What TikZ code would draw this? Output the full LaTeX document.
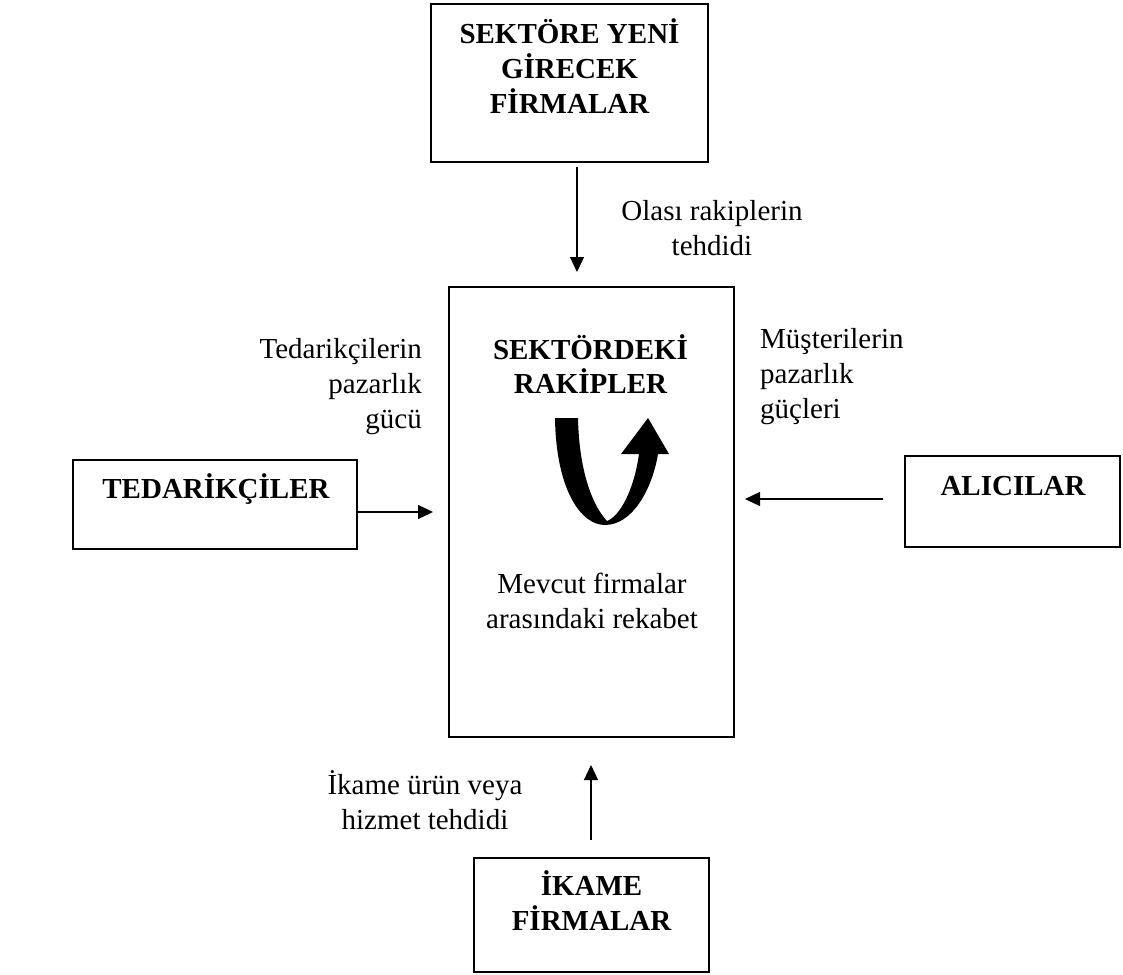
\documentclass[tikz,border=0pt]{standalone}
\usepackage{fontspec}
\setmainfont{Liberation Serif}
\usetikzlibrary{arrows.meta}
\begin{document}
\lineskiplimit=-\maxdimen
\begin{tikzpicture}[x=1pt,y=-1pt,
  box/.style={draw, line width=1.6pt, inner sep=0pt},
  lab/.style={inner sep=0pt, font=\fontsize{29}{35}\selectfont},
  head/.style={inner sep=0pt, font=\fontsize{29}{35}\selectfont\bfseries},
  arr/.style={line width=1.3pt, -{Triangle[length=15pt,width=14pt]}}]
\useasboundingbox (0,0) rectangle (1123,974);

% five forces boxes
\node[box, minimum width=277pt, minimum height=158pt] (new)   at (569.5,83)  {};
\node[box, minimum width=285pt, minimum height=450pt] (rival) at (591.5,512) {};
\node[box, minimum width=284pt, minimum height=89pt]  (sup)   at (215,504.5) {};
\node[box, minimum width=215pt, minimum height=91pt]  (buy)   at (1012.5,501.5) {};
\node[box, minimum width=235pt, minimum height=114pt] (subst) at (591.5,915) {};

% box titles
\node[head, align=center] (newT)   at (569.5,71.75) {\strut SEKTÖRE YENİ\\\strut GİRECEK\\\strut FİRMALAR};
\node[head, align=center, font=\fontsize{29}{34}\selectfont\bfseries] (rivalT) at (590.5,369.6) {\strut SEKTÖRDEKİ\\\strut RAKİPLER};
\node[head] (supT)   at (216,491.75) {\strut TEDARİKÇİLER};
\node[head] (buyT)   at (1013,488) {\strut ALICILAR};
\node[head, align=center] (substT) at (591.5,906.25) {\strut İKAME\\\strut FİRMALAR};

% force labels
\node[lab, align=center] (newL) at (712,230.5) {\strut Olası rakiplerin\\\strut tehdidi};
\node[lab, align=right, anchor=east] (supL) at (422,386) {\strut Tedarikçilerin\\\strut pazarlık\\\strut gücü};
\node[lab, align=left, anchor=west] (buyL) at (760,376) {\strut Müşterilerin\\\strut pazarlık\\\strut güçleri};
\node[lab, align=center] (rivalL) at (592,604) {\strut Mevcut firmalar\\\strut arasındaki rekabet};
\node[lab, align=center] (substL) at (425,804.75) {\strut İkame ürün veya\\\strut hizmet tehdidi};

% connector end points
\coordinate (newTail)   at (577,167);
\coordinate (newHead)   at (577,272);
\coordinate (supHead)   at (433,512);
\coordinate (buyTail)   at (883,499);
\coordinate (buyHead)   at (745,499);
\coordinate (substTail) at (591,840);
\coordinate (substHead) at (591,765);

\draw[arr] (newTail) -- (newHead);
\draw[arr] (sup.east |- supHead) -- (supHead);
\draw[arr] (buyTail) -- (buyHead);
\draw[arr] (substTail) -- (substHead);

% rivalry loop arrow
\fill (555,418) .. controls (556,488) and (580,525) .. (605,525)
  .. controls (632,525) and (652,490) .. (658,454)
  -- (669,454) -- (648,418) -- (621,454) -- (639,454)
  .. controls (634,490) and (620,516) .. (607,521)
  .. controls (592,505) and (579,470) .. (578,418) -- cycle;
\end{tikzpicture}
\end{document}
